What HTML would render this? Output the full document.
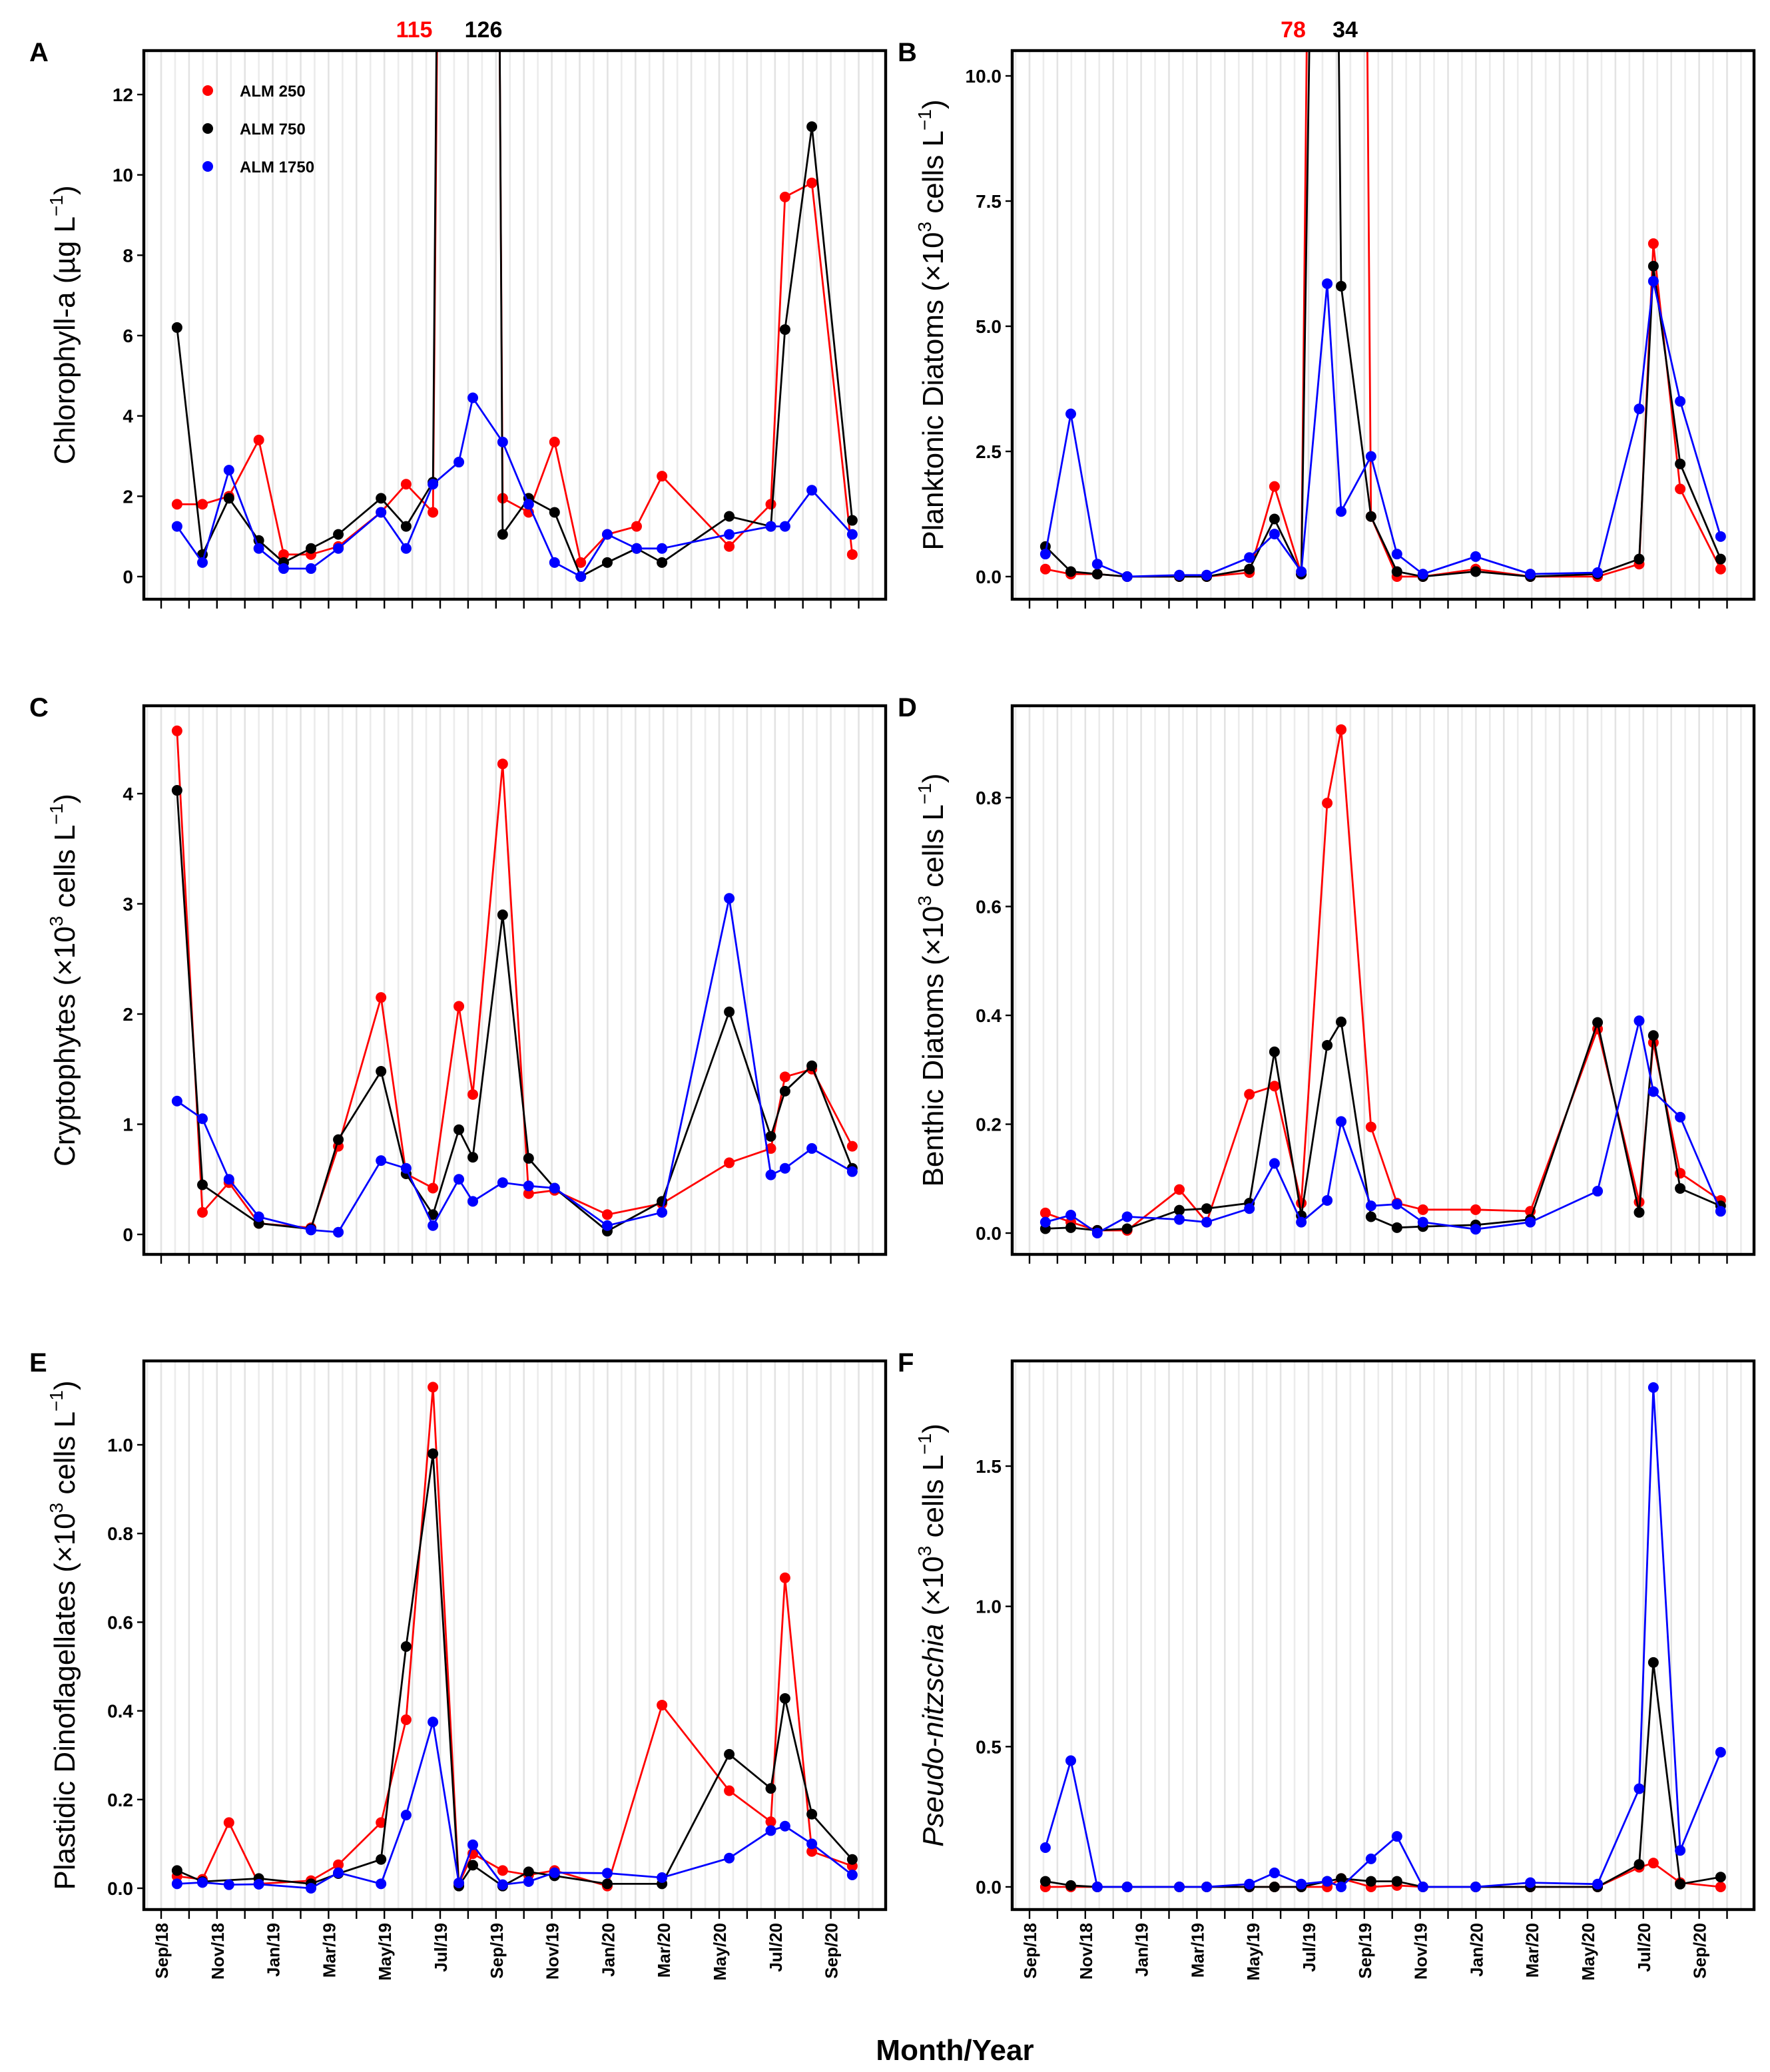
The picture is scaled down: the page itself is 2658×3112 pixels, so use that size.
<!DOCTYPE html>
<html><head><meta charset="utf-8"><style>
html,body{margin:0;padding:0;background:#fff;}
svg{display:block;font-family:"Liberation Sans",sans-serif;}
</style></head><body>
<svg id="fig" width="2658" height="3112" viewBox="0 0 1329 1556" xmlns="http://www.w3.org/2000/svg">
<rect width="1329" height="1556" fill="#fff"/>
</svg>
<script>
// Sampling dates as month offsets since 1 Sep 2018
const dates = [0.57,1.48,2.43,3.5,4.39,5.37,6.35,7.88,8.78,9.74,10.67,11.17,12.24,13.17,14.1,15.04,15.99,17.04,17.95,20.36,21.85,22.36,23.32,24.77];
const monthLabels = ["Sep/18","Nov/18","Jan/19","Mar/19","May/19","Jul/19","Sep/19","Nov/19","Jan/20","Mar/20","May/20","Jul/20","Sep/20"];
const seriesNames = ["ALM 250","ALM 750","ALM 1750"];
const seriesColors = ["#ff0000","#000000","#0000ff"];

const chlRed   = [1.8,1.8,2.0,3.4,0.55,0.55,0.75,1.6,2.3,1.6,null,115,1.95,1.6,3.35,0.35,1.05,1.25,2.5,0.75,1.8,9.45,9.8,0.55];
const chlBlack = [6.2,0.55,1.95,0.9,0.35,0.7,1.05,1.95,1.25,2.35,null,126,1.05,1.95,1.6,0.0,0.35,0.7,0.35,1.5,1.25,6.15,11.2,1.4];
const chlBlue  = [1.25,0.35,2.65,0.7,0.2,0.2,0.7,1.6,0.7,2.3,2.85,4.45,3.35,1.8,0.35,0.0,1.05,0.7,0.7,1.05,1.25,1.25,2.15,1.05];

const pdRed   = [0.15,0.05,0.05,0,null,0,0,0.08,1.8,0.05,null,78,1.2,0.0,0.0,null,0.15,null,0.0,0.0,0.25,6.65,1.75,0.15];
const pdBlack = [0.6,0.1,0.05,0,null,0,0,0.15,1.15,0.05,34,5.8,1.2,0.1,0.0,null,0.1,null,0.0,0.05,0.35,6.2,2.25,0.35];
const pdBlue  = [0.45,3.25,0.25,0,null,0.03,0.03,0.38,0.85,0.1,5.85,1.3,2.4,0.45,0.05,null,0.4,null,0.05,0.08,3.35,5.9,3.5,0.8];

const crRed   = [4.57,0.2,0.47,0.1,null,0.06,0.8,2.15,0.55,0.42,2.07,1.27,4.27,0.37,0.4,null,0.18,null,0.28,0.65,0.78,1.43,1.5,0.8];
const crBlack = [4.03,0.45,null,0.1,null,0.05,0.86,1.48,0.55,0.18,0.95,0.7,2.9,0.69,0.42,null,0.03,null,0.3,2.02,0.89,1.3,1.53,0.6];
const crBlue  = [1.21,1.05,0.5,0.16,null,0.04,0.02,0.67,0.6,0.08,0.5,0.3,0.47,0.44,0.42,null,0.08,null,0.2,3.05,0.54,0.6,0.78,0.57];

const bdRed   = [0.037,0.02,0.005,0.005,null,0.08,0.02,0.255,0.27,0.055,0.79,0.925,0.195,0.055,0.043,null,0.043,null,0.04,0.375,0.057,0.35,0.11,0.06];
const bdBlack = [0.008,0.01,0.005,0.008,null,0.042,0.045,0.055,0.333,0.032,0.345,0.388,0.03,0.01,0.012,null,0.015,null,0.025,0.387,0.038,0.363,0.082,0.05];
const bdBlue  = [0.02,0.033,0.0,0.03,null,0.025,0.02,0.045,0.128,0.02,0.06,0.205,0.05,0.053,0.02,null,0.007,null,0.02,0.077,0.39,0.26,0.213,0.04];

const dnRed   = [0.027,0.02,0.148,0.01,null,0.017,0.053,0.148,0.38,1.13,0.01,0.078,0.04,0.03,0.04,null,0.005,null,0.413,0.22,0.15,0.70,0.083,0.05];
const dnBlack = [0.04,0.015,null,0.022,null,0.01,0.033,0.065,0.545,0.98,0.005,0.052,0.005,0.037,0.028,null,0.01,null,0.01,0.302,0.225,0.428,0.167,0.065];
const dnBlue  = [0.01,0.013,0.008,0.009,null,0.0,0.035,0.01,0.165,0.375,0.012,0.098,0.008,0.015,0.035,null,0.034,null,0.024,0.068,0.13,0.14,0.1,0.03];

const pnRed   = [0,0,0,0,null,0,0,0,0,0,0,0.03,0,0.005,0,null,0,null,0,0,0.07,0.085,0.015,0.0];
const pnBlack = [0.02,0.005,0,0,null,0,0,0,0,0,0.02,0.03,0.02,0.02,0,null,0,null,0,0,0.08,0.8,0.01,0.035];
const pnBlue  = [0.14,0.45,0.0,0.0,null,0.0,0.0,0.01,0.05,0.01,0.02,0.0,0.1,0.18,0.0,null,0.0,null,0.015,0.01,0.35,1.78,0.13,0.48];

const ticksA = [0,2,4,6,8,10,12];
const ticksB = [0,2.5,5,7.5,10];
const ticksC = [0,1,2,3,4];
const ticksD = [0,0.2,0.4,0.6,0.8];
const ticksE = [0,0.2,0.4,0.6,0.8,1.0];
const ticksF = [0,0.5,1.0,1.5];

const NS = "http://www.w3.org/2000/svg";
const svg = document.getElementById("fig");
function el(tag, attrs, parent){
  const e = document.createElementNS(NS, tag);
  for (const k in attrs) e.setAttribute(k, attrs[k]);
  (parent||svg).appendChild(e);
  return e;
}

const panels = [
  {id:"a", letter:"A", left:108, top:38, y0:433, yRef:12, yRefPx:71, ticks:ticksA, dec:0, series:[chlRed,chlBlack,chlBlue], title:["Chlorophyll-a (µg L","−1",")"], italic:null, peaks:[[311,chlRed],[363,chlBlack]]},
  {id:"b", letter:"B", left:760, top:38, y0:433, yRef:10, yRefPx:57, ticks:ticksB, dec:1, series:[pdRed,pdBlack,pdBlue], title:["Planktonic Diatoms (×10","3"," cells L","−1",")"], italic:null, peaks:[[971,pdRed],[1010,pdBlack]]},
  {id:"c", letter:"C", left:108, top:530, y0:927, yRef:4, yRefPx:596, ticks:ticksC, dec:0, series:[crRed,crBlack,crBlue], title:["Cryptophytes (×10","3"," cells L","−1",")"], italic:null},
  {id:"d", letter:"D", left:760, top:530, y0:926, yRef:0.8, yRefPx:599, ticks:ticksD, dec:1, series:[bdRed,bdBlack,bdBlue], title:["Benthic Diatoms (×10","3"," cells L","−1",")"], italic:null},
  {id:"e", letter:"E", left:108, top:1022, y0:1418, yRef:1.0, yRefPx:1085, ticks:ticksE, dec:1, series:[dnRed,dnBlack,dnBlue], title:["Plastidic Dinoflagellates (×10","3"," cells L","−1",")"], italic:null, xlabels:true},
  {id:"f", letter:"F", left:760, top:1022, y0:1417, yRef:1.5, yRefPx:1101, ticks:ticksF, dec:1, series:[pnRed,pnBlack,pnBlue], title:["Pseudo-nitzschia"," (×10","3"," cells L","−1",")"], italic:0, xlabels:true}
];
const W = 557, H = 412, MONTH = 20.95;

panels.forEach((p, pi) => {
  const g = el("g", {});
  
  
  const xs = m => p.left + 13 + m * MONTH;
  const ys = v => p.y0 - v * (p.y0 - p.yRefPx) / p.yRef;

  // grid
  const grid = el("g", {}, g);
  
  
  for (let m = -0.5; m <= 25.5; m += 0.5) {
    const x = xs(m);
    if (x <= p.left + 1 || x >= p.left + W - 1) continue;
    el("line", {x1:x, x2:x, y1:p.top, y2:p.top+H, stroke: (m % 1 === 0) ? "#e3e3e3" : "#ececec", "stroke-width":1.3}, grid);
  }
  // clip
  const cp = el("clipPath", {id:"clip-"+p.id}, g);
  el("rect", {x:p.left, y:p.top, width:W, height:H}, cp);

  // series
  p.series.forEach((vals, si) => {
    const sg = el("g", {"clip-path":"url(#clip-"+p.id+")"}, g);
    
    
    const pts = [];
    vals.forEach((v, i) => { if (v !== null) pts.push([xs(dates[i]), ys(v)]); });
    const line = el("polyline", {points: pts.map(q => q[0].toFixed(1)+","+q[1].toFixed(1)).join(" "), fill:"none", stroke:seriesColors[si], "stroke-width":1.4, "stroke-linejoin":"round"}, sg);
    
    
    pts.forEach(q => {
      const c = el("circle", {cx:q[0], cy:q[1], r:4, fill:seriesColors[si]}, sg);
      
      
    });
  });

  // box
  const box = el("rect", {x:p.left, y:p.top, width:W, height:H, fill:"none", stroke:"#000", "stroke-width":2.2}, g);
  
  

  // y ticks
  const yax = el("g", {}, g);
  
  
  p.ticks.forEach(t => {
    const y = ys(t);
    el("line", {x1:p.left-5, x2:p.left, y1:y, y2:y, stroke:"#000", "stroke-width":1.2}, yax);
    const tx = el("text", {x:p.left-8, y:y+5, "text-anchor":"end", "font-size":14, "font-weight":"bold"}, yax);
    tx.textContent = t.toFixed(p.dec);
    
    
  });
  // x ticks
  const xax = el("g", {}, g);
  
  
  for (let m = 0; m <= 25; m++) {
    const x = xs(m);
    el("line", {x1:x, x2:x, y1:p.top+H+1, y2:p.top+H+7, stroke:"#000", "stroke-width":1.2}, xax);
  }
  if (p.xlabels) {
    monthLabels.forEach((lab, i) => {
      const x = xs(i*2) + 5;
      const y = p.top + H + 10;
      const tx = el("text", {x:x, y:y, transform:"rotate(-90 "+x+" "+y+")", "text-anchor":"end", "font-size":13, "font-weight":"bold"}, xax);
      tx.textContent = lab;
      
      
    });
  }

  // y title
  const tx0 = p.left < 400 ? 56 : 708;
  const ty0 = p.top + H/2;
  const tt = el("text", {x:tx0, y:ty0, transform:"rotate(-90 "+tx0+" "+ty0+")", "text-anchor":"middle", "font-size":22}, g);
  
  
  let up = false;
  p.title.forEach((part, k) => {
    const ts = el("tspan", {}, tt);
    ts.textContent = part;
    const isSup = (part === "3" || part === "−1");
    if (isSup) { ts.setAttribute("font-size", 14); ts.setAttribute("dy", -9); up = true; }
    else if (up) { ts.setAttribute("dy", 9); up = false; }
    if (p.italic === k) ts.setAttribute("font-style", "italic");
  });

  // panel letter
  const lt = el("text", {x: p.left < 400 ? 22 : 674, y: p.top + 8, "font-size":20, "font-weight":"bold"}, g);
  lt.textContent = p.letter;
  
  

  // off-scale peak annotations
  if (p.peaks) {
    p.peaks.forEach((pk, k) => {
      const mx = Math.max(...pk[1].filter(v => v !== null));
      const t = el("text", {x:pk[0], y:28, "text-anchor":"middle", "font-size":17, "font-weight":"bold", fill:seriesColors[k]}, g);
      t.textContent = String(mx);
      
      
    });
  }
});

// legend
const lg = el("g", {});


seriesNames.forEach((n, i) => {
  const y = 68 + i * 28.5;
  const e = el("g", {}, lg);
  
  
  el("circle", {cx:156, cy:y, r:4, fill:seriesColors[i]}, e);
  const t = el("text", {x:180, y:y+4.5, "font-size":12, "font-weight":"bold"}, e);
  t.textContent = n;
});

// x-axis title
const xt = el("text", {x:717, y:1547, "text-anchor":"middle", "font-size":22, "font-weight":"bold"});
xt.textContent = "Month/Year";


</script>
</body></html>
